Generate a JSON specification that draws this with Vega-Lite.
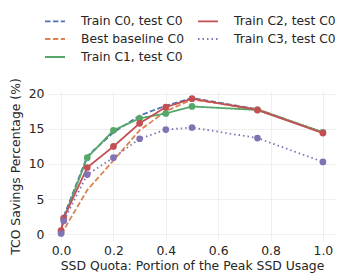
{
  "$schema": "https://vega.github.io/schema/vega-lite/v6.json",
  "autosize": "none",
  "width": 288,
  "height": 150,
  "padding": {"left": 48, "top": 91, "right": 20, "bottom": 36},
  "background": "white",
  "config": {
    "font": "DejaVu Sans",
    "view": {"stroke": null},
    "axis": {"domain": false, "ticks": false, "gridColor": "#ebebeb", "gridWidth": 0.8, "labelColor": "#262626", "titleColor": "#262626", "labelFontSize": 12.4, "titleFontSize": 12.4, "titleFontWeight": "normal"}
  },
  "data": {"values": [
    {"s": "Train C0, test C0", "x": 0, "y": 0.3},
    {"s": "Train C0, test C0", "x": 0.01, "y": 2.5},
    {"s": "Train C0, test C0", "x": 0.1, "y": 11.1},
    {"s": "Train C0, test C0", "x": 0.2, "y": 14.5},
    {"s": "Train C0, test C0", "x": 0.3, "y": 16.9},
    {"s": "Train C0, test C0", "x": 0.4, "y": 18.3},
    {"s": "Train C0, test C0", "x": 0.5, "y": 19.4},
    {"s": "Train C0, test C0", "x": 0.75, "y": 17.8},
    {"s": "Train C0, test C0", "x": 1.0, "y": 14.5},
    {"s": "Best baseline C0", "x": 0, "y": 0.0},
    {"s": "Best baseline C0", "x": 0.01, "y": 0.6},
    {"s": "Best baseline C0", "x": 0.1, "y": 6.3},
    {"s": "Best baseline C0", "x": 0.2, "y": 10.5},
    {"s": "Best baseline C0", "x": 0.3, "y": 14.8},
    {"s": "Best baseline C0", "x": 0.4, "y": 17.5},
    {"s": "Best baseline C0", "x": 0.5, "y": 19.2},
    {"s": "Best baseline C0", "x": 0.75, "y": 17.8},
    {"s": "Best baseline C0", "x": 1.0, "y": 14.5},
    {"s": "Train C1, test C0", "x": 0, "y": 0.3},
    {"s": "Train C1, test C0", "x": 0.01, "y": 2.2},
    {"s": "Train C1, test C0", "x": 0.1, "y": 10.9},
    {"s": "Train C1, test C0", "x": 0.2, "y": 14.8},
    {"s": "Train C1, test C0", "x": 0.3, "y": 16.5},
    {"s": "Train C1, test C0", "x": 0.4, "y": 17.2},
    {"s": "Train C1, test C0", "x": 0.5, "y": 18.2},
    {"s": "Train C1, test C0", "x": 0.75, "y": 17.7},
    {"s": "Train C1, test C0", "x": 1.0, "y": 14.5},
    {"s": "Train C2, test C0", "x": 0, "y": 0.5},
    {"s": "Train C2, test C0", "x": 0.01, "y": 2.3},
    {"s": "Train C2, test C0", "x": 0.1, "y": 9.5},
    {"s": "Train C2, test C0", "x": 0.2, "y": 12.5},
    {"s": "Train C2, test C0", "x": 0.3, "y": 15.8},
    {"s": "Train C2, test C0", "x": 0.4, "y": 18.1},
    {"s": "Train C2, test C0", "x": 0.5, "y": 19.3},
    {"s": "Train C2, test C0", "x": 0.75, "y": 17.7},
    {"s": "Train C2, test C0", "x": 1.0, "y": 14.4},
    {"s": "Train C3, test C0", "x": 0, "y": 0.1},
    {"s": "Train C3, test C0", "x": 0.01, "y": 1.9},
    {"s": "Train C3, test C0", "x": 0.1, "y": 8.5},
    {"s": "Train C3, test C0", "x": 0.2, "y": 10.9},
    {"s": "Train C3, test C0", "x": 0.3, "y": 13.6},
    {"s": "Train C3, test C0", "x": 0.4, "y": 14.9},
    {"s": "Train C3, test C0", "x": 0.5, "y": 15.2},
    {"s": "Train C3, test C0", "x": 0.75, "y": 13.7},
    {"s": "Train C3, test C0", "x": 1.0, "y": 10.3}
  ]},
  "encoding": {
    "x": {"field": "x", "type": "quantitative", "scale": {"domain": [-0.05, 1.05], "nice": false, "zero": false},
      "axis": {"values": [0, 0.2, 0.4, 0.6, 0.8, 1.0], "format": ".1f", "title": "SSD Quota: Portion of the Peak SSD Usage", "labelPadding": 3, "titlePadding": 3}},
    "y": {"field": "y", "type": "quantitative", "scale": {"domain": [-0.97, 20.4], "nice": false, "zero": false},
      "axis": {"values": [0, 5, 10, 15, 20], "title": "TCO Savings Percentage (%)", "labelPadding": 4, "titlePadding": 6}},
    "color": {"field": "s", "type": "nominal",
      "scale": {"domain": ["Train C0, test C0", "Best baseline C0", "Train C1, test C0", "Train C2, test C0", "Train C3, test C0"],
                "range": ["#4C72B0", "#DD8452", "#55A868", "#C44E52", "#8172B3"]},
      "legend": {"title": null, "orient": "none", "legendX": -4, "legendY": -81, "columns": 2, "symbolType": "stroke", "symbolSize": 400, "symbolStrokeWidth": 1.8, "labelFontSize": 12.3, "labelColor": "#262626", "labelOffset": 15, "rowPadding": 0, "columnPadding": 10}}
  },
  "layer": [
    {
      "mark": {"type": "line", "strokeWidth": 1.8},
      "encoding": {
        "strokeDash": {"field": "s", "type": "nominal",
          "scale": {"domain": ["Train C0, test C0", "Best baseline C0", "Train C1, test C0", "Train C2, test C0", "Train C3, test C0"],
                    "range": [[5.5, 2.4], [5.5, 2.4], [1, 0], [1, 0], [1.5, 3]]},
          "legend": null}
      }
    },
    {
      "transform": [{"filter": "datum.s == 'Train C1, test C0' || datum.s == 'Train C2, test C0' || datum.s == 'Train C3, test C0'"}],
      "mark": {"type": "point", "filled": true, "opacity": 1, "size": 45},
      "encoding": {}
    }
  ]
}
